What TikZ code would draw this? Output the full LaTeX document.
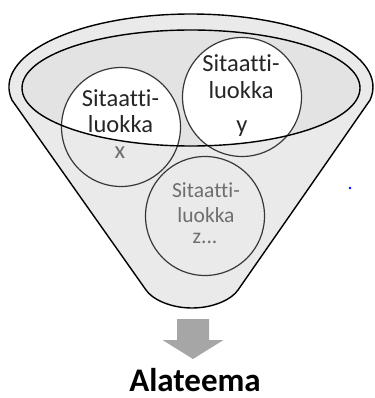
\documentclass[tikz,border=0pt]{standalone}
\usepackage{fontspec}
\setmainfont{Carlito}[Ligatures=NoCommon]
\definecolor{rimgray}{RGB}{234,234,234}
\definecolor{innergray}{RGB}{227,227,227}
\definecolor{textdark}{RGB}{38,38,38}
\definecolor{textlight}{RGB}{110,110,110}
\definecolor{ringgray}{RGB}{55,55,55}
\definecolor{arrowgray}{RGB}{166,166,166}
\begin{document}
\begin{tikzpicture}[x=1pt,y=-1pt,
  ring/.style={circle, draw=ringgray, line width=1.2pt, minimum size=119pt, inner sep=0pt},
  rim/.style={draw=black, line width=1.4pt},
  darktext/.style={anchor=base, inner sep=0pt, text=textdark, font=\fontsize{24.5}{25}\selectfont},
  lighttext/.style={anchor=base, inner sep=0pt, text=textlight, font=\fontsize{24.5}{25}\selectfont},
  smalltext/.style={anchor=base, inner sep=0pt, text=textlight, font=\fontsize{21.5}{22}\selectfont},
]
\useasboundingbox (0,0) rectangle (374,398);

% funnel body
\path[fill=rimgray] (146,290) -- (11.9,100)
  arc[start angle=169.74, end angle=370.26, x radius=182, y radius=73]
  -- (238,290) .. controls (232,299) and (214,308) .. (192,308)
  .. controls (170,308) and (152,299) .. (146,290) -- cycle;

% opening of the funnel
\fill[innergray] (191,88) ellipse[x radius=169, y radius=58];

% the circles show white inside the opening
\begin{scope}
  \clip (191,88) ellipse[x radius=169, y radius=58];
  \fill[white] (121,127) circle[radius=59.5] (242,97) circle[radius=59.5] (205,216) circle[radius=59.5];
\end{scope}

% circles
\node[ring] (cx) at (121,127) {};
\node[ring] (cy) at (242,97) {};
\node[ring] (cz) at (205,216) {};

% funnel outlines on top
\path[rim] (146,290) -- (11.9,100)
  arc[start angle=169.74, end angle=370.26, x radius=182, y radius=73]
  -- (238,290) .. controls (232,299) and (214,308) .. (192,308)
  .. controls (170,308) and (152,299) .. (146,290) -- cycle;
\draw[rim] (191,88) ellipse[x radius=169, y radius=58];

% labels in the circles
\node[darktext] (x1) at (120.5,107) {Sitaatti-};
\node[darktext] (x2) at (120.5,132) {luokka};
\node[lighttext] (x3) at (120,158) {x};

\node[darktext] (y1) at (241,72) {Sitaatti-};
\node[darktext] (y2) at (241,99) {luokka};
\node[darktext] (y3) at (242,132) {y};

\node[smalltext] (z1) at (206,197) {Sitaatti-};
\node[smalltext] (z2) at (206,222) {luokka};
\node[smalltext] (z3) at (205,243) {z...};

% stray blue dot
\fill[blue] (350,188) circle[radius=1.3];

% downward block arrow
\fill[arrowgray] (177,319) -- (209,319) -- (209,340) -- (223.5,340) -- (193,359)
  -- (162.5,340) -- (177,340) -- cycle;

% result
\node[anchor=base, inner sep=0pt, text=black, font=\bfseries\fontsize{33}{34}\selectfont] (title) at (195,391) {Alateema};
\end{tikzpicture}
\end{document}
